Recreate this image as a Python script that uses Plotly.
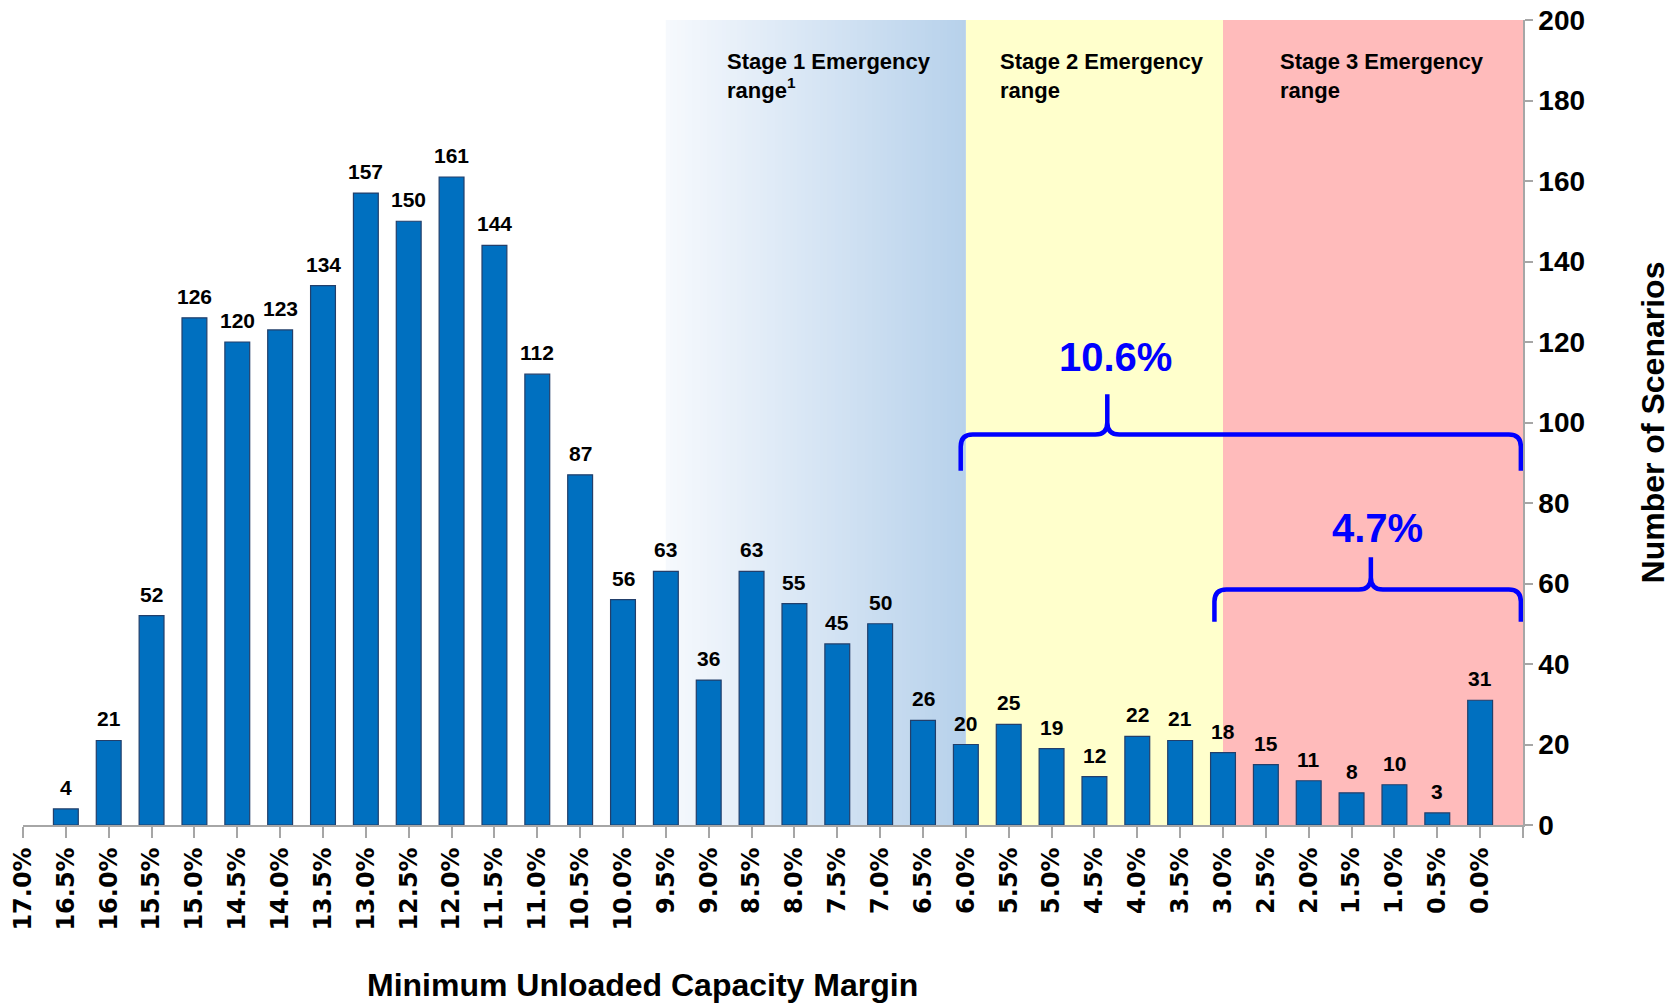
import plotly.graph_objects as go

# ---------------- data ----------------
margin_labels = ["17.0%", "16.5%", "16.0%", "15.5%", "15.0%", "14.5%", "14.0%", "13.5%",
                 "13.0%", "12.5%", "12.0%", "11.5%", "11.0%", "10.5%", "10.0%", "9.5%",
                 "9.0%", "8.5%", "8.0%", "7.5%", "7.0%", "6.5%", "6.0%", "5.5%", "5.0%",
                 "4.5%", "4.0%", "3.5%", "3.0%", "2.5%", "2.0%", "1.5%", "1.0%", "0.5%", "0.0%"]
scenario_counts = [0, 4, 21, 52, 126, 120, 123, 134, 157, 150, 161, 144, 112, 87, 56, 63,
                   36, 63, 55, 45, 50, 26, 20, 25, 19, 12, 22, 21, 18, 15, 11, 8, 10, 3, 31]
y_ticks = [0, 20, 40, 60, 80, 100, 120, 140, 160, 180, 200]

stage_names = ["Stage 1 Emergency<br>range<sup>1</sup>", "Stage 2 Emergency<br>range",
               "Stage 3 Emergency<br>range"]
stage_start = ["9.5%", "6.0%", "3.0%"]
bracket_labels = ["10.6%", "4.7%"]

# ---------------- helpers ----------------
pos = {lab: i for i, lab in enumerate(margin_labels)}
x_vals = list(range(len(margin_labels)))
x_end = len(margin_labels)  # one slot past 0.0%
Y_MAX = 200

BLUE = "#0070c0"
GREY = "#a6a6a6"
ARIAL = "Liberation Sans, Arial, sans-serif"

fig = go.Figure()

# Stage 1 gradient background (heatmap sits beneath the bars)
s1, s2, s3 = pos[stage_start[0]], pos[stage_start[1]], pos[stage_start[2]]
ncol = 80
edges = [s1 + (s2 - s1) * k / ncol for k in range(ncol + 1)]
fig.add_trace(go.Heatmap(
    x=edges, y=[0, Y_MAX], z=[[k / (ncol - 1) for k in range(ncol)]],
    colorscale=[[0, "#f6f9fd"], [1, "#b7d1eb"]], showscale=False,
    hoverinfo="skip", zsmooth=False))

# Stage 2 / Stage 3 backgrounds
fig.add_shape(type="rect", xref="x", yref="y", x0=s2, x1=s3, y0=0, y1=Y_MAX,
              fillcolor="#ffffcc", line_width=0, layer="below")
fig.add_shape(type="rect", xref="x", yref="y", x0=s3, x1=x_end, y0=0, y1=Y_MAX,
              fillcolor="#ffbbbb", line_width=0, layer="below")

# Bars (zero counts drawn as no bar)
fig.add_trace(go.Bar(
    x=x_vals, y=[v if v else None for v in scenario_counts], width=0.58,
    marker=dict(color=BLUE, line=dict(color="#223f6b", width=1.2)),
    hoverinfo="x+y"))

# Data labels
for xi, v in zip(x_vals, scenario_counts):
    if v:
        fig.add_annotation(x=xi, y=v, text=str(v), showarrow=False, yanchor="bottom",
                           yshift=8, font=dict(family=ARIAL, size=21, color="black",
                                               weight="bold"))

# Stage labels
stage_text_x = [s1 + 1.39, s2 + 0.74, s3 + 1.29]
for name, xs in zip(stage_names, stage_text_x):
    fig.add_annotation(x=xs, y=193.3, text=name, showarrow=False, xanchor="left",
                       yanchor="top", align="left",
                       font=dict(family=ARIAL, size=22, color="black", weight="bold"))


# Curly brackets
def brace_path(x0, x1, xp, yh, yend, ypk, dx=0.28, dy=3.0):
    return (f"M {x0},{yend} L {x0},{yh - dy} Q {x0},{yh} {x0 + dx},{yh} "
            f"L {xp - dx},{yh} Q {xp},{yh} {xp},{yh + dy} L {xp},{ypk} "
            f"M {xp},{yh + dy} Q {xp},{yh} {xp + dx},{yh} "
            f"L {x1 - dx},{yh} Q {x1},{yh} {x1},{yh - dy} L {x1},{yend}")


braces = [
    dict(x0=s2 - 0.12, x1=x_end - 0.05, xp=25.3, yh=97, yend=88, ypk=107, tx=25.5, ty=116.3),
    dict(x0=s3 - 0.2, x1=x_end - 0.05, xp=31.45, yh=58.5, yend=50.5, ypk=66.5, tx=31.6, ty=73.9),
]
for b, lab in zip(braces, bracket_labels):
    fig.add_shape(type="path", xref="x", yref="y",
                  path=brace_path(b["x0"], b["x1"], b["xp"], b["yh"], b["yend"], b["ypk"]),
                  line=dict(color="#0000ff", width=4.5), layer="above")
    fig.add_annotation(x=b["tx"], y=b["ty"], text=lab, showarrow=False,
                       font=dict(family=ARIAL, size=40, color="#0000ff", weight="bold"))

# X-axis title as annotation (offset left like the original)
fig.add_annotation(xref="paper", yref="paper", x=0.4127, y=-0.199,
                   text="Minimum Unloaded Capacity Margin", showarrow=False,
                   xanchor="center", yanchor="middle",
                   font=dict(family=ARIAL, size=32, color="black", weight="bold"))

# page body adds an 8px offset, so the figure is sized to fit inside the window
fig.update_layout(
    width=1671, height=998,
    margin=dict(l=15, r=156, t=12, b=181),
    plot_bgcolor="white", paper_bgcolor="white",
    showlegend=False, bargap=0.4,
)
fig.update_xaxes(
    range=[0, x_end], tickmode="array", tickvals=x_vals + [x_end],
    ticktext=margin_labels + [""], tickangle=-90, automargin=False,
    ticklabeloverflow="allow",
    tickfont=dict(family="DejaVu Sans, Verdana, sans-serif", size=24, color="black",
                  weight="bold"),
    ticks="outside", ticklen=11, tickcolor=GREY, tickwidth=1.5,
    showline=True, linecolor=GREY, linewidth=1.5, showgrid=False, zeroline=False,
)
fig.update_yaxes(
    range=[0, Y_MAX], side="right", tickmode="array", tickvals=y_ticks, automargin=False,
    ticklabeloverflow="allow",
    tickfont=dict(family=ARIAL, size=28, color="black", weight="bold"),
    ticks="outside", ticklen=8, tickcolor=GREY, tickwidth=1.5,
    showline=True, linecolor=GREY, linewidth=1.5, showgrid=False, zeroline=False,
    title=dict(text="Number of Scenarios", standoff=58,
               font=dict(family=ARIAL, size=32, color="black", weight="bold")),
)

fig.write_html("out.html")
